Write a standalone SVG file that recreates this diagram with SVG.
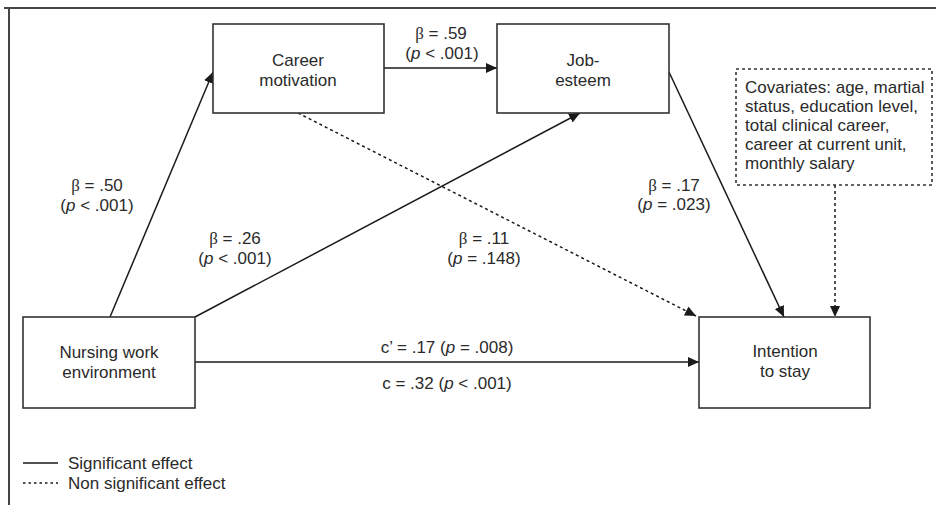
<svg xmlns="http://www.w3.org/2000/svg" width="936" height="505" viewBox="0 0 936 505">
<style>
text{font-family:"Liberation Sans",Arial,sans-serif;font-size:17px;fill:#2a2a2a}
.c{text-anchor:middle}
.box{fill:#fff;stroke:#333;stroke-width:1.6}
.dbox{fill:#fff;stroke:#333;stroke-width:1.6;stroke-dasharray:3,3}
.ln{stroke:#1a1a1a;stroke-width:1.5;fill:none}
.dl{stroke:#1a1a1a;stroke-width:1.5;fill:none;stroke-dasharray:3,3}
.i{font-style:italic}
.b{font-family:"Liberation Serif",serif}
</style>
<defs>
<marker id="ah" markerUnits="userSpaceOnUse" markerWidth="11" markerHeight="10" refX="11" refY="5" orient="auto">
<path d="M0,0 L11,5 L0,10 z" fill="#1a1a1a"/>
</marker>
</defs>
<rect width="936" height="505" fill="#fff"/>
<g id="frame">
<path d="M4,8 H936 M9,8 V505" stroke="#444" stroke-width="2" fill="none"/>
</g>
<g id="connectors">
<line class="ln" x1="110" y1="317" x2="213" y2="72" marker-end="url(#ah)"/>
<line class="ln" x1="195" y1="317" x2="580" y2="113" marker-end="url(#ah)"/>
<line class="ln" x1="384" y1="68" x2="497" y2="68" marker-end="url(#ah)"/>
<line class="dl" x1="298" y1="113" x2="696" y2="316" marker-end="url(#ah)"/>
<line class="ln" x1="669" y1="72" x2="784" y2="317" marker-end="url(#ah)"/>
<line class="dl" x1="835" y1="185" x2="835" y2="317" marker-end="url(#ah)"/>
<line class="ln" x1="195" y1="362" x2="699" y2="362" marker-end="url(#ah)"/>
</g>
<g id="career">
<rect class="box" x="213" y="24" width="171" height="89"/>
<text class="c" x="298" y="66">Career</text>
<text class="c" x="298" y="86">motivation</text>
</g>
<g id="jobesteem">
<rect class="box" x="497" y="24" width="172" height="89"/>
<text class="c" x="583" y="66">Job-</text>
<text class="c" x="583" y="86">esteem</text>
</g>
<g id="covariates">
<rect class="dbox" x="736" y="69" width="196" height="116"/>
<text x="745" y="93">Covariates: age, martial</text>
<text x="745" y="112">status, education level,</text>
<text x="745" y="131">total clinical career,</text>
<text x="745" y="150">career at current unit,</text>
<text x="745" y="169">monthly salary</text>
</g>
<g id="nwe">
<rect class="box" x="23" y="317" width="172" height="91"/>
<text class="c" x="109" y="358">Nursing work</text>
<text class="c" x="109" y="378">environment</text>
</g>
<g id="intention">
<rect class="box" x="699" y="317" width="171" height="91"/>
<text class="c" x="785" y="357">Intention</text>
<text class="c" x="785" y="377">to stay</text>
</g>
<g id="labels">
<text class="c" x="441" y="39"><tspan class="b">β</tspan> = .59</text>
<text class="c" x="442" y="59">(<tspan class="i">p</tspan> &lt; .001)</text>
<text class="c" x="97" y="191"><tspan class="b">β</tspan> = .50</text>
<text class="c" x="97" y="211">(<tspan class="i">p</tspan> &lt; .001)</text>
<text class="c" x="235" y="244"><tspan class="b">β</tspan> = .26</text>
<text class="c" x="235" y="264">(<tspan class="i">p</tspan> &lt; .001)</text>
<text class="c" x="484" y="244"><tspan class="b">β</tspan> = .11</text>
<text class="c" x="484" y="264">(<tspan class="i">p</tspan> = .148)</text>
<text class="c" x="674" y="191"><tspan class="b">β</tspan> = .17</text>
<text class="c" x="674" y="210">(<tspan class="i">p</tspan> = .023)</text>
<text class="c" x="447" y="353">c’ = .17 (<tspan class="i">p</tspan> = .008)</text>
<text class="c" x="447" y="389">c = .32 (<tspan class="i">p</tspan> &lt; .001)</text>
</g>
<g id="legend">
<line class="ln" x1="23" y1="463" x2="58" y2="463"/>
<line class="ln" x1="23" y1="483" x2="58" y2="483" stroke-dasharray="2.5,3"/>
<text x="68" y="469">Significant effect</text>
<text x="68" y="489">Non significant effect</text>
</g>
</svg>
